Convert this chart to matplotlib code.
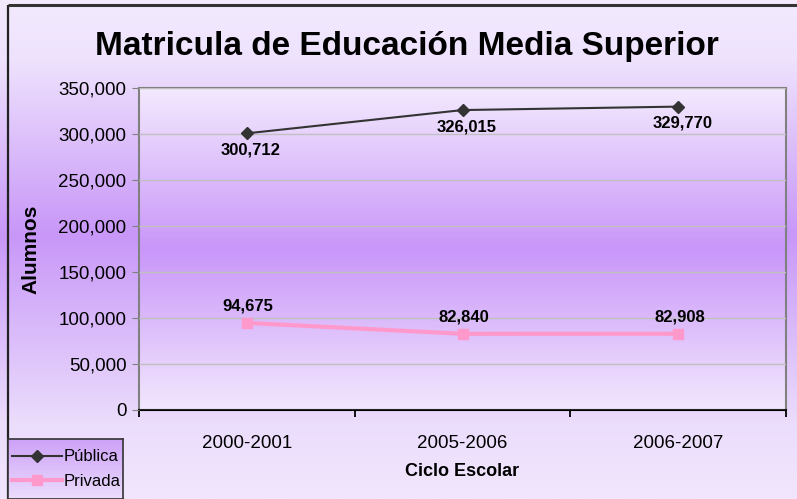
import numpy as np
import matplotlib
matplotlib.use("Agg")
import matplotlib.pyplot as plt
from matplotlib.colors import LinearSegmentedColormap
from matplotlib.ticker import FuncFormatter, FixedLocator, NullFormatter

plt.rcParams['font.family'] = ['Liberation Sans', 'DejaVu Sans']

categories = ["2000-2001", "2005-2006", "2006-2007"]
publica = [300712, 326015, 329770]
privada = [94675, 82840, 82908]
title = "Matricula de Educación Media Superior"
ylabel = "Alumnos"
xlabel = "Ciclo Escolar"

W, H = 797, 499
fig = plt.figure(figsize=(W / 100, H / 100), dpi=100)

# background gradient (figure)
grad_cmap = LinearSegmentedColormap.from_list(
    "bg", [(0.0, "#F3EAFE"), (0.12, "#EEE2FD"), (0.47, "#C897F8"), (0.85, "#EBDDFC"), (1.0, "#F1E6FD")])
bg = fig.add_axes([0, 0, 1, 1], zorder=-10)
bg.imshow(np.linspace(0, 1, 256).reshape(-1, 1), aspect='auto', cmap=grad_cmap,
          extent=[0, 1, 0, 1], origin='upper')
bg.set_xlim(0, 1); bg.set_ylim(0, 1)
bg.axis('off')
# outer border (top and left)
bg.plot([8 / W, 8 / W], [0, 1 - 5 / H], color="#222222", lw=1.6, solid_capstyle='butt')
bg.plot([8 / W, 1], [1 - 5 / H, 1 - 5 / H], color="#333333", lw=2.2, solid_capstyle='butt')

# plot area
L, R, T, B = 139, 786, 88, 410
ax = fig.add_axes([L / W, 1 - B / H, (R - L) / W, (B - T) / H])
pa_cmap = LinearSegmentedColormap.from_list(
    "pa", [(0.0, "#F3EAFE"), (0.5, "#C996F9"), (1.0, "#F2E8FD")])
ax.imshow(np.linspace(0, 1, 256).reshape(-1, 1), aspect='auto', cmap=pa_cmap,
          extent=[0, 1, 0, 1], origin='upper', transform=ax.transAxes, zorder=0)

x = np.arange(len(categories))
ax.plot(x, publica, color="#333333", lw=1.5, marker='D', markersize=6,
        markerfacecolor="#333333", markeredgecolor="#333333", zorder=3, label="Pública")
ax.plot(x, privada, color="#FF99CC", lw=3, marker='s', markersize=6.5,
        markerfacecolor="#FF99CC", markeredgecolor="#FF99CC", zorder=3, label="Privada")

for xi, v in zip(x, publica):
    ax.annotate(f"{v:,}", (xi, v), xytext=(3, -12), textcoords='offset points',
                ha='center', va='center', fontsize=12, fontweight='bold', color='black', zorder=4)
for xi, v in zip(x, privada):
    ax.annotate(f"{v:,}", (xi, v), xytext=(1, 12), textcoords='offset points',
                ha='center', va='center', fontsize=12, fontweight='bold', color='black', zorder=4)

ax.set_xlim(-0.5, len(categories) - 0.5)
ax.set_ylim(0, 350000)
ax.set_yticks(np.arange(0, 350001, 50000))
ax.yaxis.set_major_formatter(FuncFormatter(lambda v, p: f"{int(v):,}"))
ax.yaxis.grid(True, color="#C0C0C0", lw=1)
ax.set_axisbelow(False)
for gl in ax.get_ygridlines():
    gl.set_zorder(1)
ax.set_xticks(x)
ax.set_xticklabels(categories, fontsize=13.5)
ax.tick_params(axis='x', length=0, pad=18)
ax.xaxis.set_minor_locator(FixedLocator([-0.5, 0.5, 1.5, 2.5]))
ax.xaxis.set_minor_formatter(NullFormatter())
ax.tick_params(axis='x', which='minor', length=5, width=1.3, color='black')
ax.tick_params(axis='y', labelsize=13.5, length=5, color="#808080", pad=4)

for s in ['top', 'right', 'left']:
    ax.spines[s].set_color("#808080")
    ax.spines[s].set_linewidth(1.5)
ax.spines['bottom'].set_color("black")
ax.spines['bottom'].set_linewidth(1.5)

ax.set_ylabel(ylabel, fontsize=15, fontweight='bold', labelpad=10)
ax.yaxis.set_label_coords(-0.153, 0.5)
ax.set_xlabel(xlabel, fontsize=13, fontweight='bold', labelpad=8)

fig.text(407 / W, 1 - 46 / H, title, ha='center', va='center', fontsize=24, fontweight='bold')

# legend box with gradient
lg_ax = fig.add_axes([8 / W, 0, (123 - 8) / W, (H - 439) / H], zorder=5)
lg_cmap = LinearSegmentedColormap.from_list("lg", [(0.0, "#CDA2F8"), (1.0, "#EBDCFC")])
lg_ax.imshow(np.linspace(0, 1, 64).reshape(-1, 1), aspect='auto', cmap=lg_cmap,
             extent=[0, 1, 0, 1], origin='upper')
lg_ax.set_xticks([]); lg_ax.set_yticks([])
for s in lg_ax.spines.values():
    s.set_color("#333333"); s.set_linewidth(1.2)
handles, labels = ax.get_legend_handles_labels()
leg = fig.legend(handles, labels, loc='center left', bbox_to_anchor=(12 / W, 30 / H),
                 frameon=False, fontsize=12, handlelength=3.0, handletextpad=0.1,
                 labelspacing=0.55, borderaxespad=0, borderpad=0)
leg.set_zorder(6)

fig.savefig("out.png", dpi=100)
